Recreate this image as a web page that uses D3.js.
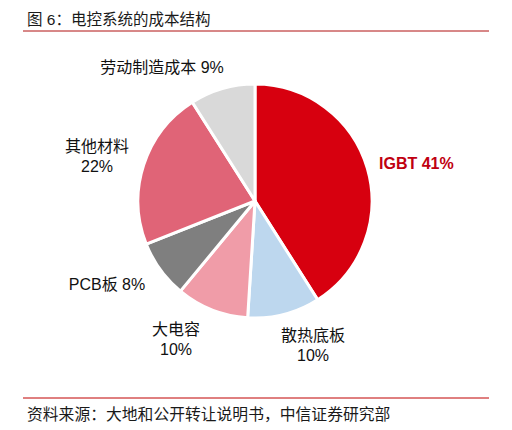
<!DOCTYPE html>
<html><head><meta charset="utf-8">
<script src="https://cdn.jsdelivr.net/npm/d3@7"></script>
<style>body{margin:0;background:#fff}svg{display:block}text{font-family:"Liberation Sans","Noto Sans CJK SC",sans-serif}</style>
</head><body>
<script>
const categories = ["IGBT","散热底板","大电容","PCB板","其他材料","劳动制造成本"];
const values = [41,10,10,8,22,9];
const colors = ["#d7000f","#bdd7ee","#f09ca8","#7f7f7f","#e06477","#d9d9d9"];
const labelLines = [["IGBT 41%"],["散热底板","10%"],["大电容","10%"],["PCB板 8%"],["其他材料","22%"],["劳动制造成本 9%"]];
const labelPos = [[379,163,"start"],[313,335,"middle"],[176,329,"middle"],[107,284,"middle"],[97,146,"middle"],[162,67,"middle"]];

const W=512,H=430;
const svg=d3.select("body").append("svg").attr("width",W).attr("height",H);
svg.append("text").attr("x",27).attr("y",25).attr("font-size",15.5).attr("fill","#1a1a1a").text("图 6：电控系统的成本结构");
svg.append("line").attr("x1",23).attr("x2",489).attr("y1",31).attr("y2",31).attr("stroke","#b01010").attr("stroke-width",1);
svg.append("line").attr("x1",23).attr("x2",489).attr("y1",398).attr("y2",398).attr("stroke","#c00000").attr("stroke-width",1);
svg.append("text").attr("x",27).attr("y",420).attr("font-size",15.8).attr("fill","#1a1a1a").text("资料来源：大地和公开转让说明书，中信证券研究部");

const cx=255,cy=201,r=117;
const pie=d3.pie().sort(null).value(d=>d)(values);
const arc=d3.arc().innerRadius(0).outerRadius(r);
const g=svg.append("g").attr("transform",`translate(${cx},${cy})`);
g.selectAll("path").data(pie).join("path").attr("d",arc).attr("fill",(d,i)=>colors[i]).attr("stroke","#fff").attr("stroke-width",3).attr("stroke-linejoin","round");

labelLines.forEach((lines,i)=>{
  const [x,y,anchor]=labelPos[i];
  const t=svg.append("text").attr("x",x).attr("y",y).attr("text-anchor",anchor).attr("font-size",16)
    .attr("fill",i===0?"#c00010":"#111").attr("font-weight",i===0?"bold":"normal");
  lines.forEach((l,j)=>t.append("tspan").attr("x",x).attr("dy",j===0?"0.35em":"1.25em").text(l));
});
</script>
</body></html>
